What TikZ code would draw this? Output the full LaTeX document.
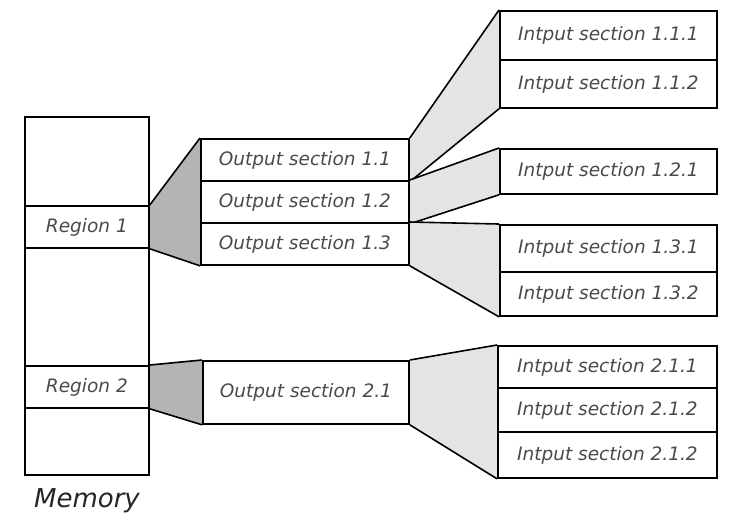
\documentclass[tikz,border=0pt]{standalone}
\usepackage{fontspec}
\setmainfont{DejaVu Sans}
\usetikzlibrary{backgrounds}
\definecolor{txtgray}{HTML}{4A4A4A}
\definecolor{darkwedge}{HTML}{B4B4B4}
\definecolor{lightwedge}{HTML}{E4E4E4}
\begin{document}
\begin{tikzpicture}[x=1pt,y=-1pt,
  lbl/.style={font=\fontsize{18.5}{20}\selectfont\itshape, text=txtgray},
  secbox/.style={draw=black, line width=1.8pt, fill=white, inner sep=0pt,
    anchor=north west, lbl},
  darkfill/.style={fill=darkwedge},
  lightfill/.style={fill=lightwedge},
  edge/.style={draw=black, line width=1.6pt, line join=round}
]
\useasboundingbox (0,0) rectangle (741,523);
% memory column
\node[secbox, minimum width=124pt, minimum height=89pt] (mtop) at (24,116) {};
\node[secbox, minimum width=124pt, minimum height=42pt] (r1) at (24,205) {Region 1};
\node[secbox, minimum width=124pt, minimum height=118pt] (mmid) at (24,247) {};
\node[secbox, minimum width=124pt, minimum height=42pt] (r2) at (24,365) {Region 2};
\node[secbox, minimum width=124pt, minimum height=67pt] (mbot) at (24,407) {};
\node[font=\fontsize{26}{28}\selectfont\itshape, text=black!85] (mem) at (87,501) {Memory};
% output sections
\node[secbox, minimum width=208pt, minimum height=42pt] (o11) at (200,138) {Output section 1.1};
\node[secbox, minimum width=208pt, minimum height=42pt] (o12) at (200,180) {Output section 1.2};
\node[secbox, minimum width=208pt, minimum height=42pt] (o13) at (200,222) {Output section 1.3};
\node[secbox, minimum width=206pt, minimum height=63pt] (o21) at (202,360) {Output section 2.1};
% input sections
\node[secbox, minimum width=217pt, minimum height=49pt] (i111) at (499,10) {Intput section 1.1.1};
\node[secbox, minimum width=217pt, minimum height=48pt] (i112) at (499,59) {Intput section 1.1.2};
\node[secbox, minimum width=217pt, minimum height=45pt] (i121) at (499,148) {Intput section 1.2.1};
\node[secbox, minimum width=217pt, minimum height=47pt] (i131) at (499,224) {Intput section 1.3.1};
\node[secbox, minimum width=217pt, minimum height=44pt] (i132) at (499,271) {Intput section 1.3.2};
\node[secbox, minimum width=219pt, minimum height=42pt] (i211) at (497,345) {Intput section 2.1.1};
\node[secbox, minimum width=219pt, minimum height=44pt] (i212) at (497,387) {Intput section 2.1.2};
\node[secbox, minimum width=219pt, minimum height=46pt] (i213) at (497,431) {Intput section 2.1.2};
% wedges
\begin{scope}[on background layer]
\fill[darkfill] (r1.north east) -- (o11.north west) -- (o13.south west) -- (r1.south east) -- cycle;
\draw[edge] (r1.north east) -- (o11.north west);
\draw[edge] (r1.south east) -- (o13.south west);
\fill[darkfill] (r2.north east) -- (o21.north west) -- (o21.south west) -- (r2.south east) -- cycle;
\draw[edge] (r2.north east) -- (o21.north west);
\draw[edge] (r2.south east) -- (o21.south west);
\fill[lightfill] (o11.north east) -- (i111.north west) -- (i112.south west) -- (o11.south east) -- cycle;
\draw[edge] (o11.north east) -- (i111.north west);
\draw[edge] (o11.south east) -- (i112.south west);
\fill[lightfill] (o12.north east) -- (i121.north west) -- (i121.south west) -- (o12.south east) -- cycle;
\draw[edge] (o12.north east) -- (i121.north west);
\draw[edge] (o12.south east) -- (i121.south west);
\fill[lightfill] (o13.north east) -- (i131.north west) -- (i132.south west) -- (o13.south east) -- cycle;
\draw[edge] (o13.north east) -- (i131.north west);
\draw[edge] (o13.south east) -- (i132.south west);
\fill[lightfill] (o21.north east) -- (i211.north west) -- (i213.south west) -- (o21.south east) -- cycle;
\draw[edge] (o21.north east) -- (i211.north west);
\draw[edge] (o21.south east) -- (i213.south west);
\end{scope}
\end{tikzpicture}
\end{document}
